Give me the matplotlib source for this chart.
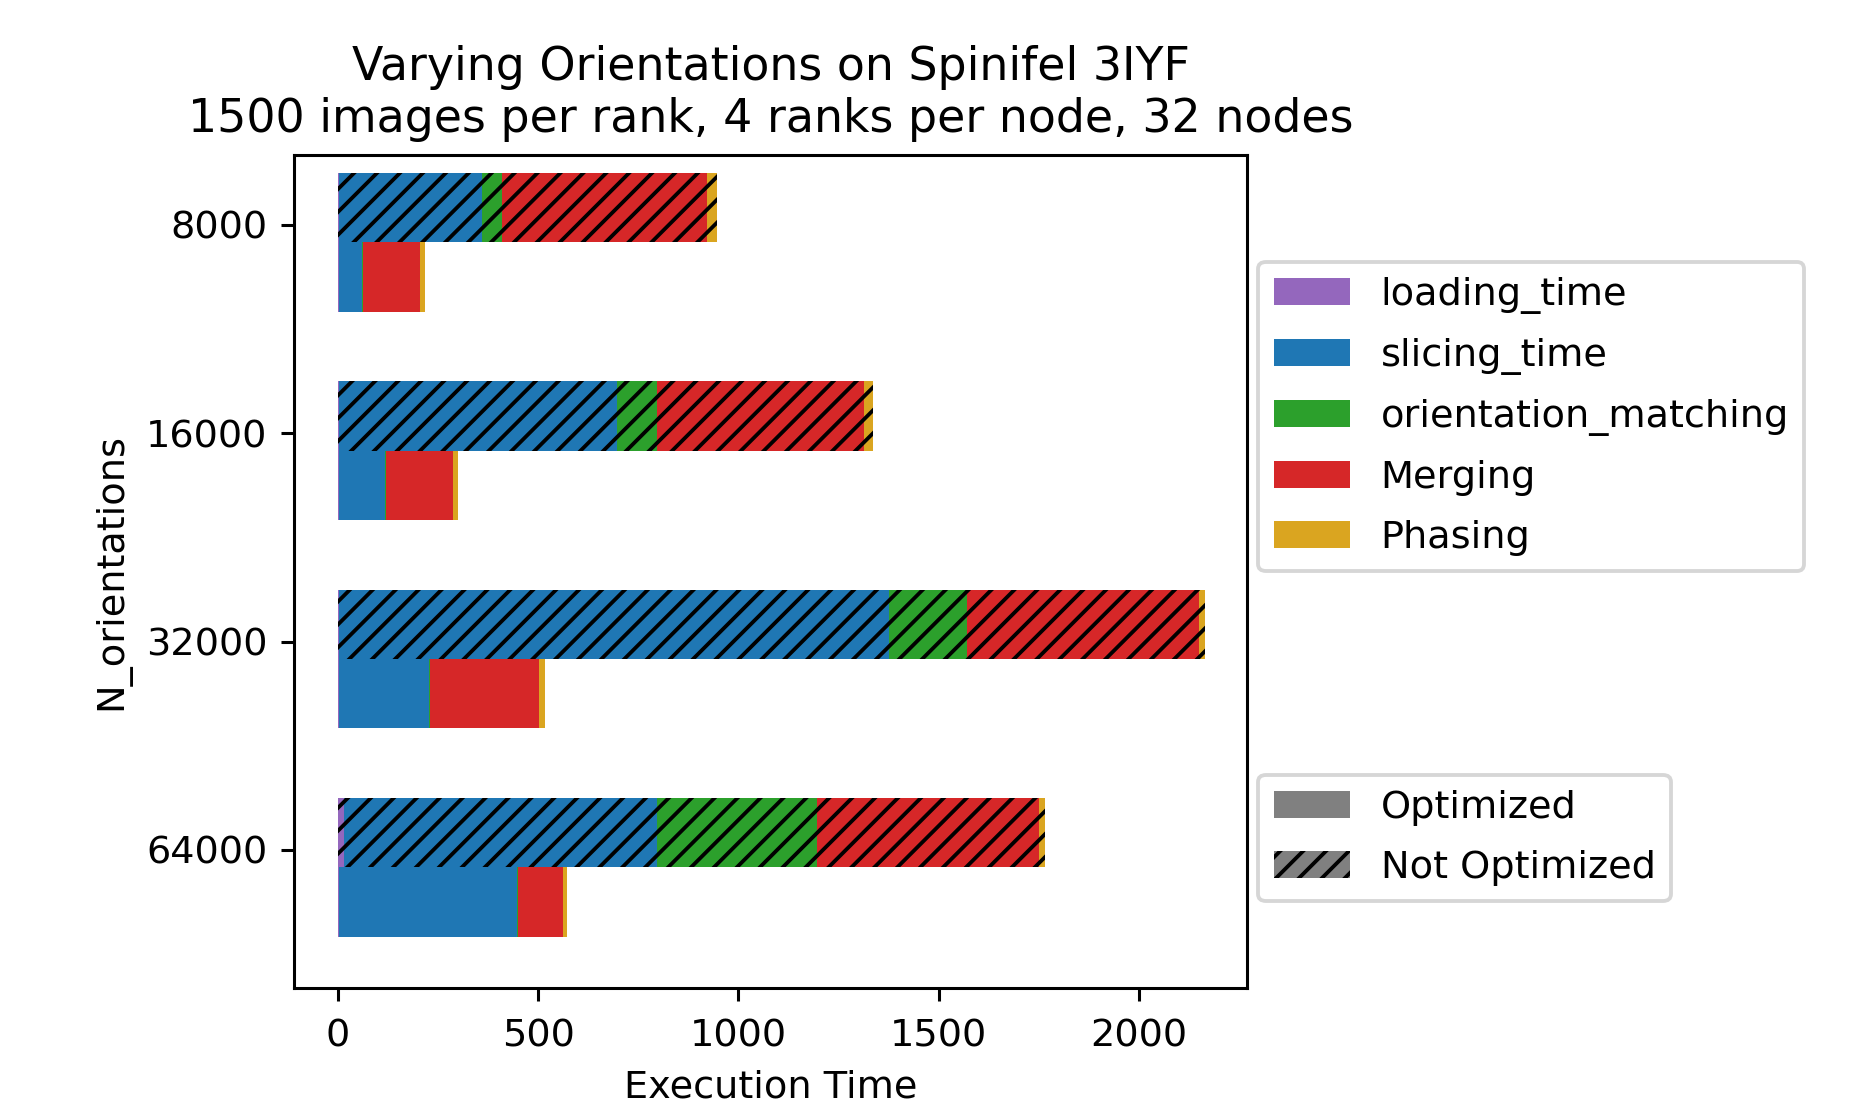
import numpy as np
import matplotlib
matplotlib.use("Agg")
import matplotlib.pyplot as plt
from matplotlib.patches import Patch

# ---- data ----
orientations = ["8000", "16000", "32000", "64000"]
components = ["loading_time", "slicing_time", "orientation_matching", "Merging", "Phasing"]
colors = ["tab:purple", "tab:blue", "tab:green", "tab:red", "goldenrod"]

# Not optimized (hatched)
noopt_loading = [3, 3, 3, 15]
noopt_slicing = [357, 694, 1372, 782]
noopt_orient = [50, 100, 195, 400]
noopt_merging = [511, 517, 580, 554]
noopt_phasing = [25, 23, 15, 15]

# Optimized (solid)
opt_loading = [2, 2, 2, 2]
opt_slicing = [59, 115, 225, 446]
opt_orient = [2, 2, 2, 2]
opt_merging = [141, 168, 272, 111]
opt_phasing = [12, 12, 15, 12]

title = "Varying Orientations on Spinifel 3IYF\n1500 images per rank, 4 ranks per node, 32 nodes"

# ---- plot ----
dpi = 275
fig = plt.figure(figsize=(1849 / dpi, 1104 / dpi), dpi=dpi)
ax = fig.add_axes([0.159, 0.105, 0.5154, 0.7546])

ind = np.arange(len(orientations))
h = 0.333
hatch = "////"
noopt = [noopt_loading, noopt_slicing, noopt_orient, noopt_merging, noopt_phasing]
opt = [opt_loading, opt_slicing, opt_orient, opt_merging, opt_phasing]

left = np.zeros(len(ind))
for vals, c in zip(noopt, colors):
    ax.barh(ind - 0.083, vals, height=h, left=left, color=c, hatch=hatch, linewidth=0)
    left += np.array(vals)

left = np.zeros(len(ind))
for vals, c in zip(opt, colors):
    ax.barh(ind + 0.25, vals, height=h, left=left, color=c, linewidth=0)
    left += np.array(vals)

ax.set_yticks(ind)
ax.set_yticklabels(orientations)
ax.set_ylim(3.663, -0.336)
ax.set_xlim(-110, 2270)
ax.set_xlabel("Execution Time", labelpad=4)
ax.set_ylabel("N_orientations")
ax.tick_params(axis="x", pad=4.5)
ax.set_title(title, fontsize=12)

comp_handles = [Patch(facecolor=c, label=n) for n, c in zip(components, colors)]
leg1 = ax.legend(handles=comp_handles, loc="upper left", bbox_to_anchor=(1.012, 0.872),
                 borderaxespad=0, fontsize=10, labelspacing=0.63)
ax.add_artist(leg1)
type_handles = [Patch(facecolor="gray", label="Optimized"),
                Patch(facecolor="gray", hatch=hatch, label="Not Optimized")]
ax.legend(handles=type_handles, loc="upper left", bbox_to_anchor=(1.012, 0.256),
          borderaxespad=0, fontsize=10, labelspacing=0.63)

fig.savefig("out.png", dpi=dpi)
